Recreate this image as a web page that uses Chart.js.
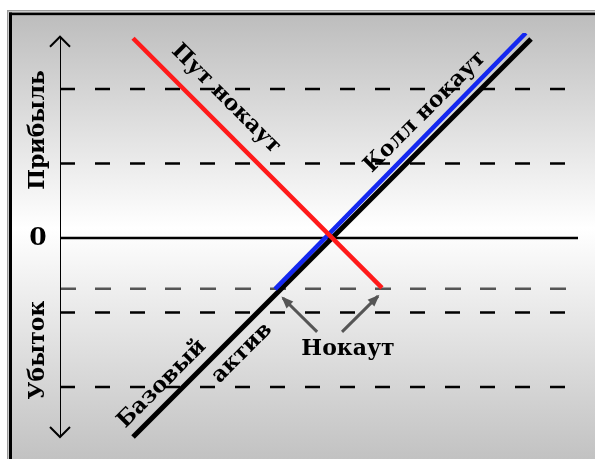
<!DOCTYPE html>
<html><head><meta charset="utf-8">
<script src="https://cdn.jsdelivr.net/npm/chart.js@4"></script>
<style>html,body{margin:0;padding:0;background:#fff;overflow:hidden}</style>
</head><body>
<canvas id="c" width="595" height="459"></canvas>
<script>
// ---- data ----
const xRange = [-3.65, 3.3];
const yRange = [-2.75, 2.75];
const gridLevels = [2, 1, -1, -2];
const zeroLevel = 0;
const knockoutLevel = -0.68;
const underlyingX = [-2.67, 2.67];
const underlyingY = [-2.67, 2.67];
const putX = [-2.67, 0.67];
const putY = [2.68, -0.67];
const callX = [-0.765, 2.60];
const callY = [-0.685, 2.75];
const arrowLeftX = [-0.20, -0.66];
const arrowLeftY = [-1.26, -0.805];
const arrowRightX = [0.134, 0.617];
const arrowRightY = [-1.26, -0.78];
const axisY = [-2.67, 2.70];
const zeroTickLabel = '0';
const labels = {
  profit: 'Прибыль', loss: 'Убыток', put: 'Пут нокаут', call: 'Колл нокаут',
  base1: 'Базовый', base2: 'актив', knock: 'Нокаут'
};

const pts = (xs, ys) => xs.map((x, i) => ({x, y: ys[i]}));
const hline = y => [{x: xRange[0], y}, {x: xRange[1], y}];

const datasets = [];
gridLevels.forEach(v => datasets.push({data: hline(v), borderColor: '#000', borderWidth: 2.5, borderDash: [15, 20], order: 10}));
datasets.push({data: hline(knockoutLevel), borderColor: '#555', borderWidth: 2.5, borderDash: [16, 19], order: 9});
datasets.push({data: hline(zeroLevel), borderColor: '#000', borderWidth: 2.5, order: 8});
datasets.push({data: pts([xRange[0], xRange[0]], axisY), borderColor: '#000', borderWidth: 2, order: 8, axisArrow: true});
datasets.push({data: pts(underlyingX, underlyingY), borderColor: '#000', borderWidth: 5, order: 5});
datasets.push({data: pts(callX, callY), borderColor: '#1428f0', borderWidth: 4.5, order: 4});
datasets.push({data: pts(putX, putY), borderColor: '#ff1a1a', borderWidth: 4.5, order: 3});
datasets.push({data: pts(arrowLeftX, arrowLeftY), borderColor: '#555', borderWidth: 3, order: 2, arrow: true});
datasets.push({data: pts(arrowRightX, arrowRightY), borderColor: '#555', borderWidth: 3, order: 2, arrow: true});

const deco = {
  id: 'deco',
  beforeDraw(chart) {
    const ctx = chart.ctx, W = chart.width, H = chart.height;
    ctx.save();
    ctx.fillStyle = '#fff'; ctx.fillRect(0, 0, W, H);
    ctx.fillStyle = '#9a9a9a'; ctx.fillRect(7, 10, W, 1.5); ctx.fillRect(7, 10, 1.5, H);
    ctx.fillStyle = '#000'; ctx.fillRect(9, 12.5, W, 3); ctx.fillRect(9, 12.5, 3, H);
    const g = ctx.createLinearGradient(0, 15, 0, H);
    g.addColorStop(0, '#bdbdbd');
    g.addColorStop(0.48, '#ffffff');
    g.addColorStop(1, '#c2c2c2');
    ctx.fillStyle = g; ctx.fillRect(12, 15.5, W, H);
    ctx.restore();
  },
  afterDatasetsDraw(chart) {
    const ctx = chart.ctx, xs = chart.scales.x, ys = chart.scales.y;
    ctx.save();
    chart.data.datasets.forEach(ds => {
      const p = ds.data.map(d => ({x: xs.getPixelForValue(d.x), y: ys.getPixelForValue(d.y)}));
      if (ds.arrow) {
        const a = p[0], b = p[1];
        const ang = Math.atan2(b.y - a.y, b.x - a.x), L = 11, w = 0.45;
        ctx.fillStyle = ds.borderColor;
        ctx.beginPath();
        ctx.moveTo(b.x + Math.cos(ang) * 2, b.y + Math.sin(ang) * 2);
        ctx.lineTo(b.x - L * Math.cos(ang - w), b.y - L * Math.sin(ang - w));
        ctx.lineTo(b.x - L * Math.cos(ang + w), b.y - L * Math.sin(ang + w));
        ctx.closePath(); ctx.fill();
      }
      if (ds.axisArrow) {
        ctx.strokeStyle = '#000'; ctx.lineWidth = 2;
        const top = p[1], bot = p[0];
        ctx.beginPath();
        ctx.moveTo(top.x - 10, top.y + 10); ctx.lineTo(top.x, top.y); ctx.lineTo(top.x + 10, top.y + 10);
        ctx.moveTo(bot.x - 10, bot.y - 10); ctx.lineTo(bot.x, bot.y); ctx.lineTo(bot.x + 10, bot.y - 10);
        ctx.stroke();
      }
    });
    const font = 'bold 22px "DejaVu Serif"';
    const txt = (s, x, y, rot, f) => {
      ctx.save(); ctx.translate(x, y); ctx.rotate(rot * Math.PI / 180);
      ctx.font = f || font; ctx.fillStyle = '#000'; ctx.textAlign = 'center'; ctx.textBaseline = 'middle';
      ctx.fillText(s, 0, 0); ctx.restore();
    };
    txt(labels.profit, 38, 130, -90);
    txt(labels.loss, 38, 350, -90);
    txt(zeroTickLabel, 38, 238, 0, 'bold 25px "DejaVu Serif"');
    txt(labels.put, 226, 99, 45);
    txt(labels.call, 425, 112, -45);
    txt(labels.base1, 162, 384, -45);
    txt(labels.base2, 242, 353, -45);
    txt(labels.knock, 348, 349, 0);
    ctx.restore();
  }
};

new Chart(document.getElementById('c'), {
  type: 'line',
  data: {datasets},
  options: {
    responsive: false, animation: false,
    layout: {padding: {left: 60, right: 17, top: 33, bottom: 16}},
    elements: {point: {radius: 0}, line: {tension: 0, borderCapStyle: 'butt'}},
    scales: {
      x: {type: 'linear', min: xRange[0], max: xRange[1], display: false},
      y: {type: 'linear', min: yRange[0], max: yRange[1], display: false}
    },
    plugins: {legend: {display: false}, tooltip: {enabled: false}}
  },
  plugins: [deco]
});
</script>
</body></html>
